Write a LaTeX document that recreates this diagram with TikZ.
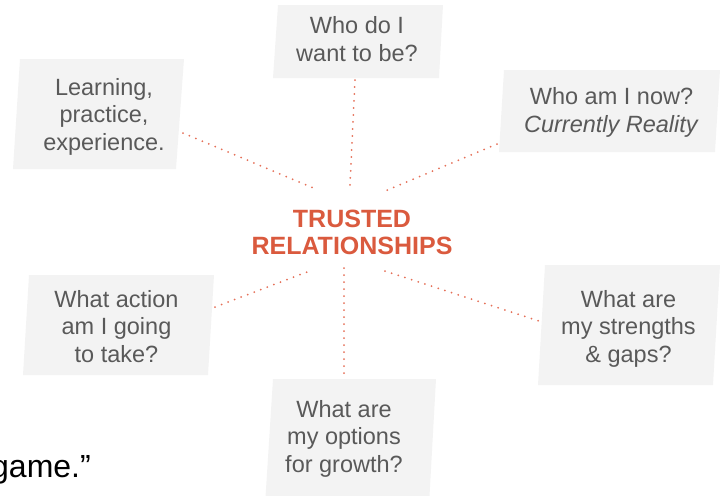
\documentclass[tikz,border=0pt]{standalone}
\usepackage{fontspec}
\setmainfont{Liberation Sans}
\begin{document}
\definecolor{boxfill}{HTML}{F3F3F3}
\definecolor{boxtext}{HTML}{595959}
\definecolor{hubred}{HTML}{DA5A3E}
\definecolor{dotline}{HTML}{E57058}
\begin{tikzpicture}[x=1pt,y=-1pt,
  card/.style={fill=boxfill, draw=none},
  cardtext/.style={text=boxtext, align=center, inner sep=0pt, anchor=base,
    font=\fontsize{23.5}{27.5}\selectfont},
  hubtext/.style={text=hubred, align=center, inner sep=0pt, anchor=base,
    font=\fontsize{25}{27}\selectfont\bfseries},
  link/.style={draw=dotline, line width=2pt, line cap=round, dash pattern=on 0pt off 7pt}]
\clip (0,0) rectangle (724,496);
\useasboundingbox (0,0) rectangle (724,496);

% slanted cards
\path[card] (20,59) -- (184,59) -- (176,169) -- (13,169) -- cycle;
\path[card] (278,5) -- (443,5) -- (439,78) -- (273,78) -- cycle;
\path[card] (504,70) -- (720,70) -- (715,152) -- (499,152) -- cycle;
\path[card] (29,275) -- (214,275) -- (208,375) -- (23,375) -- cycle;
\path[card] (273,379) -- (436,379) -- (429,505) -- (265,505) -- cycle;
\path[card] (545,265) -- (720,265) -- (713,385) -- (538,385) -- cycle;

% card texts (anchored at the baseline of the last line)
\node[cardtext] (learn) at (104,150) {Learning,\\practice,\\experience.};
\node[cardtext] (want) at (357,61) {Who do I\\want to be?};
\node[cardtext] (now) at (611.5,132) {Who am I now?\\\textit{Currently Reality}};
\node[cardtext] (action) at (116.5,362) {What action\\am I going\\to take?};
\node[cardtext] (options) at (344,472) {What are\\my options\\for growth?};
\node[cardtext] (strengths) at (628.5,362) {What are\\my strengths\\\& gaps?};

% hub
\node[hubtext] (hub) at (352,254) {TRUSTED\\RELATIONSHIPS};

% quote fragment
\node[inner sep=0pt, anchor=base east, font=\fontsize{32}{36}\selectfont] (quote) at (91,477) {game.”};

% connector ends
\coordinate (learnE) at (183,133);  \coordinate (hubNW) at (318,190);
\coordinate (wantS) at (355,80);    \coordinate (hubN) at (350,185);
\coordinate (nowW) at (497,144);    \coordinate (hubNE) at (385,191);
\coordinate (actionE) at (215,307); \coordinate (hubSW) at (307,272);
\coordinate (optionsN) at (344,374);\coordinate (hubS) at (344,268);
\coordinate (strengthsW) at (539,321); \coordinate (hubSE) at (385,271);

\path[link] (learnE) -- (hubNW);
\path[link] (wantS) -- (hubN);
\path[link] (nowW) -- (hubNE);
\path[link] (actionE) -- (hubSW);
\path[link] (hubS) -- (optionsN);
\path[link] (hubSE) -- (strengthsW);
\end{tikzpicture}
\end{document}
